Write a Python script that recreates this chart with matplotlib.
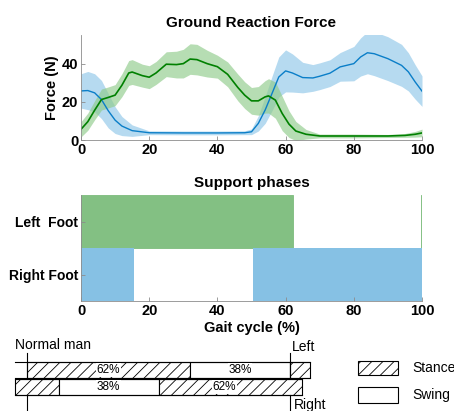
import numpy as np
import matplotlib
matplotlib.use("Agg")
import matplotlib.pyplot as plt
from matplotlib.patches import Rectangle

plt.rcParams["font.family"] = ["Liberation Sans", "DejaVu Sans"]
plt.rcParams["hatch.linewidth"] = 0.6

# ground reaction force, left foot (green)
left_t = [0, 2, 4, 6, 8, 10, 12, 14, 15, 18, 20, 22, 25, 28, 30, 32, 34, 37, 40,
          43, 46, 48, 50, 52, 54, 55, 57, 59, 61, 63, 66, 70, 80, 90, 95, 98, 100]
left_mean = [5.6, 9.6, 15.6, 21.2, 22.3, 23.5, 28.7, 35.1, 35.6, 33.7, 32.9, 35.1,
             39.7, 39.5, 40.0, 42.4, 42.1, 40.0, 38.4, 34.4, 27.5, 23.5, 20.5, 20.5,
             22.6, 23.1, 20.9, 13.9, 8.3, 4.7, 3.0, 2.1, 2.1, 2.1, 2.4, 3.0, 3.7]
left_sd = [4.0, 4.5, 5.0, 5.5, 5.5, 5.5, 6.0, 6.5, 6.5, 6.0, 6.0, 6.0, 6.5, 7.0,
           7.5, 8.0, 8.0, 7.0, 6.0, 6.5, 7.0, 7.0, 7.0, 7.5, 8.5, 9.0, 9.5, 9.0,
           7.0, 5.0, 2.5, 1.0, 1.0, 0.8, 1.0, 1.5, 2.0]

# ground reaction force, right foot (blue)
right_t = [0, 2, 4, 6, 8, 10, 12, 15, 20, 30, 40, 48, 50, 52, 54, 56, 58, 60, 62,
           65, 68, 70, 73, 76, 80, 82, 84, 86, 90, 94, 96, 98, 100]
right_mean = [25.7, 25.9, 24.7, 21.2, 15.3, 10.4, 7.3, 4.9, 3.8, 3.7, 3.7, 3.8, 4.3,
              8.7, 15.7, 24.3, 33.0, 36.2, 35.1, 32.7, 32.5, 33.4, 35.0, 38.3, 40.0,
              43.5, 45.7, 45.2, 42.6, 39.1, 35.7, 30.4, 25.6]
right_sd = [9.0, 10.0, 10.0, 10.0, 9.0, 7.0, 5.0, 3.0, 1.0, 1.0, 1.0, 1.0, 1.5, 4.0,
            7.0, 9.0, 10.5, 11.0, 10.0, 8.0, 7.0, 7.0, 7.0, 7.5, 9.0, 10.0, 11.0,
            11.5, 11.5, 11.0, 10.0, 9.0, 8.0]

# support phases (start, width) in % of gait cycle
left_stance = [(0, 62.2), (99.7, 0.3)]
right_stance = [(0, 15.4), (50.5, 49.5)]
feet = ["Right Foot", "Left  Foot"]

# normal gait schematic
stance_pct = 62
swing_pct = 38
step_offset = 50

GREEN = "#008000"
BLUE = "#0a7ec8"
AXIS_GREY = "#8c8c8c"


def style_axis(ax, ysize=10.5):
    for side in ["top", "right"]:
        ax.spines[side].set_visible(False)
    for side in ["left", "bottom"]:
        ax.spines[side].set_color(AXIS_GREY)
        ax.spines[side].set_linewidth(0.6)
    ax.tick_params(direction="in", length=3, width=0.6, color=AXIS_GREY,
                   labelsize=10.5, pad=2)
    ax.tick_params(axis="y", labelsize=ysize)
    for lab in ax.get_xticklabels() + ax.get_yticklabels():
        lab.set_fontweight("bold")


fig = plt.figure(figsize=(4.54, 4.11), dpi=100)

# top: ground reaction force
ax1 = fig.add_axes([81 / 454, 1 - 140 / 411, 341 / 454, 105 / 411])
lm, ls = np.array(left_mean), np.array(left_sd)
rm, rs = np.array(right_mean), np.array(right_sd)
ax1.fill_between(right_t, rm - rs, rm + rs, color="#a9d4ee", alpha=0.85, lw=0)
ax1.fill_between(left_t, lm - ls, lm + ls, color="#8fcb8a", alpha=0.65, lw=0)
ax1.plot(right_t, right_mean, color=BLUE, lw=1.0)
ax1.plot(left_t, left_mean, color=GREEN, lw=1.2)
ax1.set_xlim(0, 100)
ax1.set_ylim(0, 55)
ax1.set_xticks([0, 20, 40, 60, 80, 100])
ax1.set_yticks([0, 20, 40])
ax1.set_ylabel("Force (N)", fontsize=10.5, fontweight="bold", labelpad=2)
ax1.set_title("Ground Reaction Force", fontsize=11, fontweight="bold", pad=6)
style_axis(ax1)

# middle: support phases
ax2 = fig.add_axes([81 / 454, 1 - 301 / 411, 341 / 454, 106 / 411])
ax2.broken_barh(left_stance, (1, 1), facecolors="#83c083", edgecolor="#6fb56f",
                linewidth=0.5)
ax2.broken_barh(right_stance, (0, 1), facecolors="#86c1e4", linewidth=0)
ax2.set_xlim(0, 100)
ax2.set_ylim(0, 2)
ax2.set_xticks([0, 20, 40, 60, 80, 100])
ax2.set_yticks([0.5, 1.5])
ax2.set_yticklabels(feet)
ax2.set_xlabel("Gait cycle (%)", fontsize=10.5, fontweight="bold", labelpad=2)
ax2.set_title("Support phases", fontsize=11, fontweight="bold", pad=6)
style_axis(ax2, ysize=10)

# bottom: schematic drawn in pixel coordinates
ax3 = fig.add_axes([0, 0, 1, 1], zorder=-1)
ax3.set_xlim(0, 454)
ax3.set_ylim(411, 0)
ax3.axis("off")

x0, cyc = 27, 263


def px(p):
    return x0 + p * cyc / 100


top_y, mid_y, bot_y = 362, 378, 395
lo, hi_top, hi_bot = -4.5, 107.5, 104.5


def seg(p0, p1, y0, y1, hatched):
    ax3.add_patch(Rectangle((px(p0), y0), px(p1) - px(p0), y1 - y0,
                            facecolor="white", edgecolor="black", lw=0.8,
                            hatch="///" if hatched else None))


# left foot row
seg(0, stance_pct, top_y, mid_y, True)
seg(stance_pct, stance_pct + swing_pct, top_y, mid_y, False)
seg(100, hi_top, top_y, mid_y, True)
# right foot row
r_to = stance_pct - step_offset
seg(lo, r_to, mid_y + 1, bot_y, True)
seg(r_to, step_offset, mid_y + 1, bot_y, False)
seg(step_offset, hi_bot, mid_y + 1, bot_y, True)
for y, end in [(top_y, hi_top), (mid_y, hi_top), (mid_y + 1, hi_bot), (bot_y, hi_bot)]:
    ax3.plot([px(lo), px(end)], [y, y], color="black", lw=0.8)

for p in [0, 100]:
    ax3.plot([px(p), px(p)], [353, mid_y], color="black", lw=0.8)
    ax3.plot([px(p), px(p)], [bot_y, 411], color="black", lw=0.8)

lab_kw = dict(ha="center", va="center", fontsize=8.5,
              bbox=dict(facecolor="white", edgecolor="none", pad=0.5))
ax3.text(px(stance_pct / 2), (top_y + mid_y) / 2, f"{stance_pct}%", **lab_kw)
ax3.text(px(stance_pct + swing_pct / 2), (top_y + mid_y) / 2, f"{swing_pct}%", **lab_kw)
ax3.text(px((r_to + step_offset) / 2), (mid_y + bot_y) / 2 + 0.5, f"{swing_pct}%", **lab_kw)
ax3.text(px((step_offset + 100) / 2), (mid_y + bot_y) / 2 + 0.5, f"{stance_pct}%", **lab_kw)

ax3.text(15, 352, "Normal man", fontsize=10, ha="left", va="bottom")
ax3.text(px(100) + 2, 354, "Left", fontsize=10, ha="left", va="bottom")
ax3.text(px(100) + 4, 398, "Right", fontsize=10, ha="left", va="top")

# legend
ax3.add_patch(Rectangle((358, 361), 40, 14, facecolor="white", edgecolor="black",
                        lw=0.8, hatch="///"))
ax3.add_patch(Rectangle((358, 387), 40, 16, facecolor="white", edgecolor="black",
                        lw=0.8))
ax3.text(412, 368, "Stance", fontsize=10, ha="left", va="center")
ax3.text(412, 395, "Swing", fontsize=10, ha="left", va="center")

fig.savefig("out.png", dpi=100)
